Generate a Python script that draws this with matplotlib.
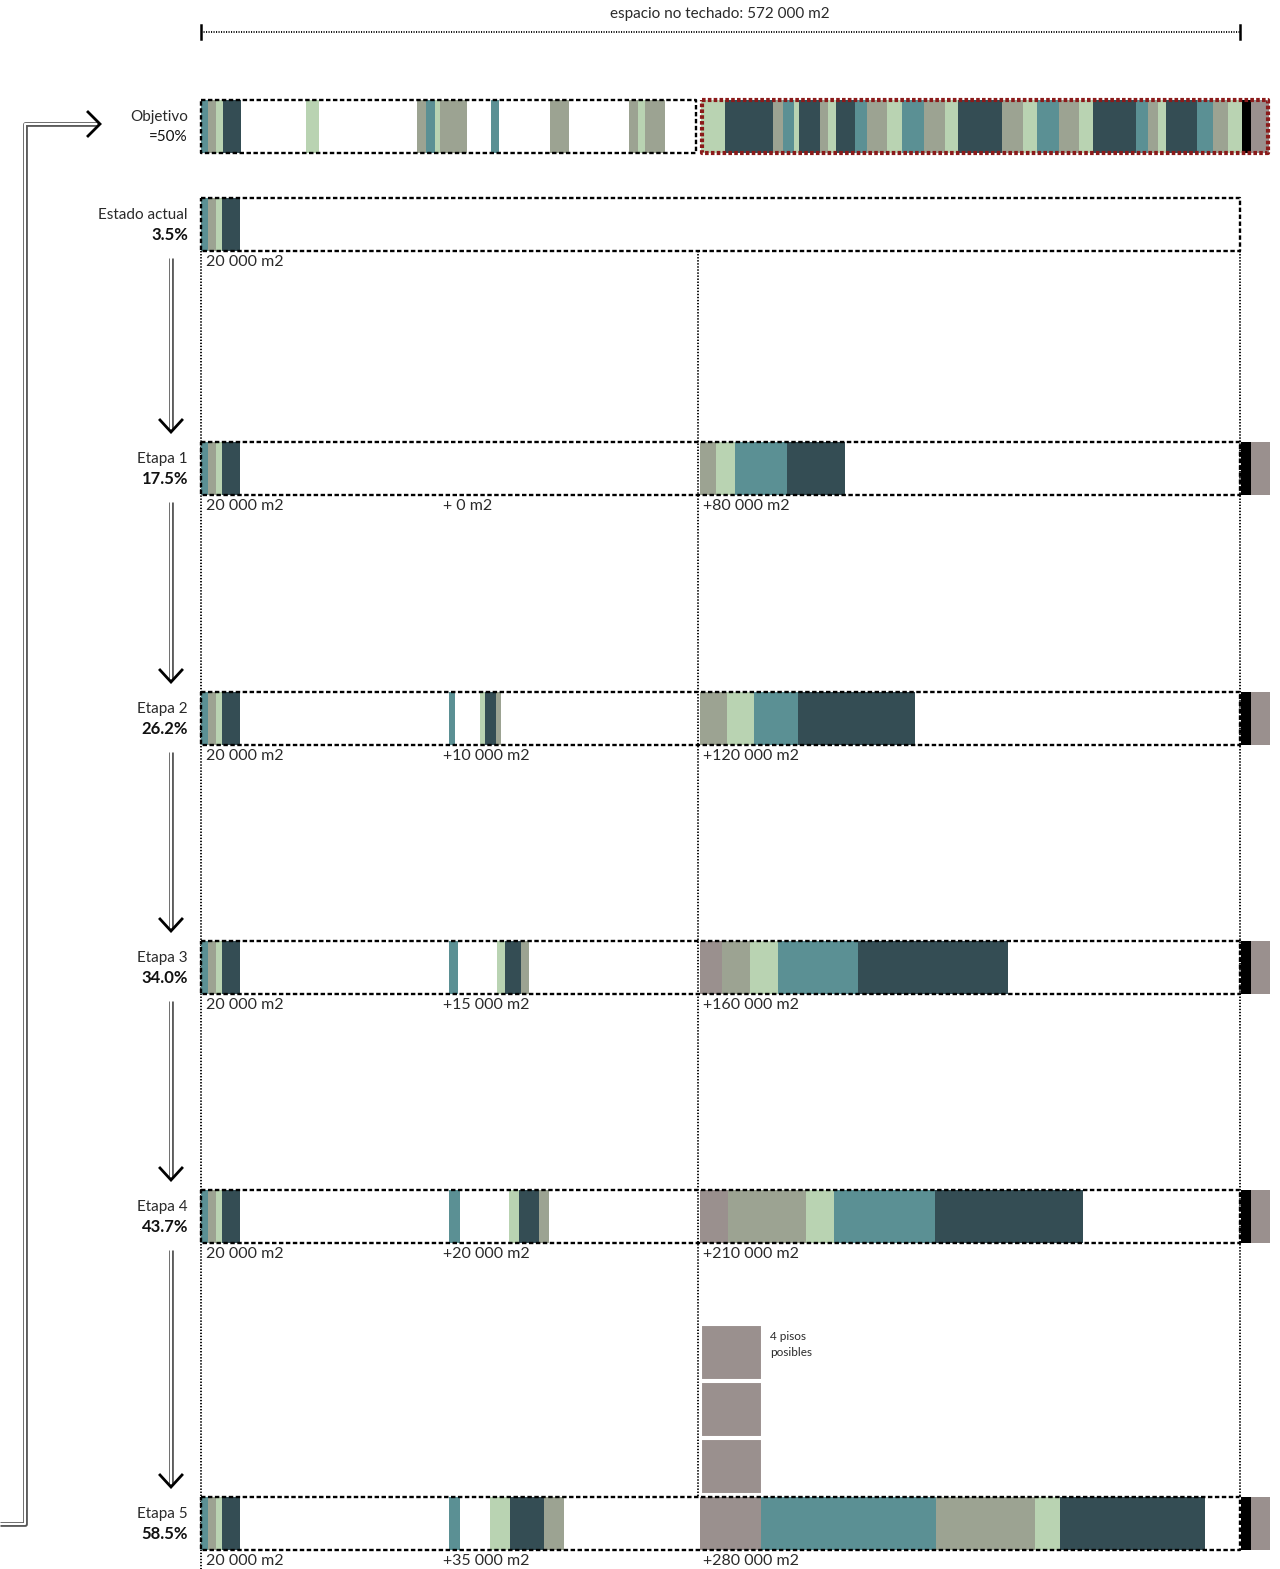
import matplotlib
matplotlib.use('Agg')
import matplotlib.pyplot as plt

plt.rcParams['font.family'] = ['Lato', 'DejaVu Sans']
plt.rcParams['lines.scale_dashes'] = False

COLORS = {'t': '#5b9094', 'g': '#9ca392', 'l': '#b9d3b2', 'd': '#344d54',
          'm': '#9a908e', 'k': '#000000'}

# all widths in thousands of m2
TOTAL_OPEN = 572
mid_start = 136.3
right_start = 274.7
tail_start = 572.5

row_names = ['Objetivo', 'Estado actual', 'Etapa 1', 'Etapa 2', 'Etapa 3', 'Etapa 4', 'Etapa 5']
row_pcts = ['=50%', '3.5%', '17.5%', '26.2%', '34.0%', '43.7%', '58.5%']

base_keys = ['t', 'g', 'l', 'd']
base_widths = [4.1, 4.1, 3.6, 9.9]
base_label = '20 000 m2'

mid_keys = [[], ['t', None, 'l', 'd', 'g'], ['t', None, 'l', 'd', 'g'],
            ['t', None, 'l', 'd', 'g'], ['t', None, 'l', 'd', 'g']]
mid_widths = [[], [3.6, 13.5, 2.9, 5.9, 3.1], [5.3, 21.5, 4.4, 8.8, 4.3],
              [6.3, 26.9, 5.7, 11.1, 5.4], [6.1, 16.8, 10.7, 19.1, 10.7]]
mid_labels = ['+ 0 m2', '+10 000 m2', '+15 000 m2', '+20 000 m2', '+35 000 m2']

right_keys = [['g', 'l', 't', 'd'], ['g', 'l', 't', 'd'], ['m', 'g', 'l', 't', 'd'],
              ['m', 'g', 'l', 't', 'd'], ['m', 't', 'g', 'l', 'd']]
right_widths = [[8.6, 10.8, 28.3, 31.9], [15.1, 14.8, 24.2, 64.4],
                [12.2, 15.5, 15.1, 44.3, 82.5], [15.5, 43.0, 15.5, 55.6, 81.3],
                [33.6, 96.4, 54.7, 13.4, 80.0]]
right_labels = ['+80 000 m2', '+120 000 m2', '+160 000 m2', '+210 000 m2', '+280 000 m2']

tail_keys = ['k', 'm']
tail_widths = [5.5, 10.5]

obj_left_keys = ['t', 'g', 'l', 'd', 'l', 'g', 't', 'l', 'g', 't', 'g', 'g', 'l', 'g']
obj_left_starts = [0, 4.0, 8.2, 11.9, 57.6, 118.7, 123.9, 128.8, 131.6, 159.7, 192.1, 235.5, 240.7, 244.4]
obj_left_widths = [4.0, 4.2, 3.7, 9.9, 7.5, 5.1, 5.0, 2.8, 14.7, 4.6, 10.6, 5.3, 3.7, 11.0]
obj_left_end = 272.3
obj_right_start = 275.0
obj_right_keys = list('ldgtldgldtgltgldgltgldtgldtglkm')
obj_right_widths = [13.3, 26.5, 5.4, 6.0, 3.1, 11.4, 4.7, 4.2, 10.7, 6.2, 11.4, 7.9, 12.2,
                    11.6, 7.1, 24.0, 11.8, 7.7, 12.0, 11.4, 7.3, 23.8, 6.8, 5.6, 4.1,
                    17.0, 8.9, 8.3, 7.7, 4.8, 10.3]

extra_floors = 3
split_line = 273.6

# layout (pixel rows)
row_tops = [100, 198, 442, 692, 941, 1190, 1497]
BAR_H = 53
S = 1039 / TOTAL_OPEN
TXT = '#2a2a2a'


def px(x):
    return (x - 201) / S


def draw_run(ax, x0, keys, widths, top):
    left = x0
    for k, w in zip(keys, widths):
        if k is not None:
            ax.barh(top + BAR_H / 2, w, left=left, height=BAR_H, color=COLORS[k],
                    linewidth=0, zorder=2)
        left += w


def box(ax, x0, x1, top, color='black', lw=1.7, dash=(3.2, 1.8)):
    ax.plot([x0, x1, x1, x0, x0], [top, top, top + BAR_H, top + BAR_H, top],
            color=color, lw=lw, linestyle=(0, dash), zorder=4)


def double_line(ax, xs, ys):
    ax.plot(xs, ys, color='#555555', lw=3.4, solid_capstyle='butt', zorder=3)
    ax.plot(xs, ys, color='white', lw=1.5, solid_capstyle='butt', zorder=3)


fig = plt.figure(figsize=(12.8, 15.69), dpi=100)
ax = fig.add_axes([0, 0, 1, 1])
ax.set_xlim(px(0), px(1280))
ax.set_ylim(1569, 0)
ax.axis('off')

# top dimension line
ax.plot([0, TOTAL_OPEN], [32, 32], color='black', lw=1.3, linestyle=(0, (0.8, 1.0)))
for xe in [0, TOTAL_OPEN]:
    ax.plot([xe, xe], [25, 39], color='black', lw=1.8)
ax.text(px(720), 14, 'espacio no techado: 572 000 m2', ha='center', va='center',
        fontsize=11, color=TXT)

# vertical dotted guides
dot = (0, (1.0, 1.2))
ax.plot([0, 0], [251, 1569], color='black', lw=1.3, linestyle=dot, zorder=1)
ax.plot([split_line, split_line], [251, row_tops[-1]], color='black', lw=1.3, linestyle=dot, zorder=1)
ax.plot([TOTAL_OPEN, TOTAL_OPEN], [251, row_tops[-1]], color='black', lw=1.3, linestyle=dot, zorder=1)

# objetivo row
top = row_tops[0]
for k, s, w in zip(obj_left_keys, obj_left_starts, obj_left_widths):
    ax.barh(top + BAR_H / 2, w, left=s, height=BAR_H, color=COLORS[k], linewidth=0, zorder=2)
draw_run(ax, obj_right_start, obj_right_keys, obj_right_widths, top)
box(ax, 0, obj_left_end, top)
box(ax, obj_right_start + 0.8, obj_right_start + sum(obj_right_widths) - 0.6, top,
    color='#8b1a1a', lw=3.0, dash=(2.6, 1.6))

# estado actual
top = row_tops[1]
draw_run(ax, 0, base_keys, base_widths, top)
box(ax, 0, TOTAL_OPEN, top)
ax.text(px(206), top + BAR_H + 11, base_label, ha='left', va='center', fontsize=11.5, color=TXT)

# etapas
for i in range(5):
    top = row_tops[i + 2]
    draw_run(ax, 0, base_keys, base_widths, top)
    draw_run(ax, mid_start, mid_keys[i], mid_widths[i], top)
    draw_run(ax, right_start, right_keys[i], right_widths[i], top)
    draw_run(ax, tail_start, tail_keys, tail_widths, top)
    box(ax, 0, TOTAL_OPEN, top)
    ly = top + BAR_H + 11
    ax.text(px(206), ly, base_label, ha='left', va='center', fontsize=11.5, color=TXT)
    ax.text(px(443), ly, mid_labels[i], ha='left', va='center', fontsize=11.5, color=TXT)
    ax.text(px(703), ly, right_labels[i], ha='left', va='center', fontsize=11.5, color=TXT)

# possible floors above the last stage
floor_w = right_widths[4][0]
last_top = row_tops[-1]
for j in range(extra_floors):
    ax.bar(right_start + 0.4, -55, width=floor_w, bottom=last_top - 3 - j * 57, align='edge',
           color=COLORS['m'], edgecolor='white', linewidth=1.5, zorder=2)
ax.text(px(770), 1336, '4 pisos', ha='left', va='center', fontsize=8.5, color=TXT)
ax.text(px(770), 1352, 'posibles', ha='left', va='center', fontsize=8.5, color=TXT)

# row labels
for name, pct, top in zip(row_names, row_pcts, row_tops):
    ax.text(px(188), top + 17, name, ha='right', va='center', fontsize=11, color=TXT)
    bold = name != 'Objetivo'
    ax.text(px(188), top + 37, pct, ha='right', va='center', fontsize=12 if bold else 11,
            color='#111111', fontweight='bold' if bold else 'normal')

# stage arrows
ax_x = px(171)
for a, b in zip(row_tops[1:-1], row_tops[2:]):
    y0 = a + BAR_H + 7
    tip = b - 10
    double_line(ax, [ax_x, ax_x], [y0, tip - 3])
    ax.plot([px(160), ax_x, px(182)], [tip - 12, tip, tip - 12], color='black', lw=2.0,
            solid_joinstyle='miter', zorder=4)

# return arrow
rx = px(25)
double_line(ax, [px(0), rx, rx, px(97)], [1524, 1524, 124, 124])
ax.plot([px(88), px(100), px(88)], [112, 124, 136], color='black', lw=2.0,
        solid_joinstyle='miter', zorder=4)

fig.savefig('out.png', dpi=100, facecolor='white')
